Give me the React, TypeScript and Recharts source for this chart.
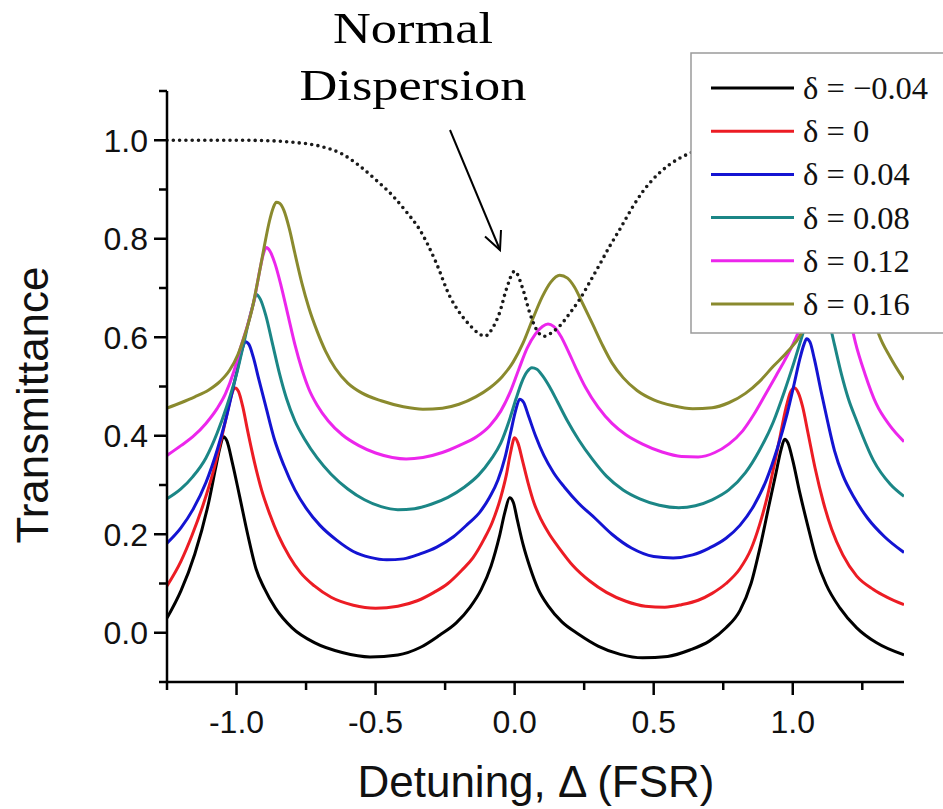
import React from 'react';
import { LineChart, Line, XAxis, YAxis } from 'recharts';

const CHART_W = 943;
const CHART_H = 809;

// [detuning (FSR), transmittance]
const curveM004: [number, number][] = [
  [-1.25, 0.03], [-1.2, 0.085], [-1.15, 0.16], [-1.1, 0.265], [-1.075, 0.335], [-1.06, 0.375], [-1.047, 0.398],
  [-1.035, 0.39], [-1.015, 0.345], [-0.99, 0.28], [-0.96, 0.2], [-0.93, 0.13], [-0.9, 0.09], [-0.86, 0.05],
  [-0.8, 0.01], [-0.72, -0.02], [-0.62, -0.04], [-0.52, -0.049], [-0.42, -0.045], [-0.34, -0.03], [-0.27, -0.005],
  [-0.21, 0.02], [-0.16, 0.052], [-0.12, 0.088], [-0.085, 0.135], [-0.055, 0.195], [-0.035, 0.245], [-0.018, 0.274],
  [-0.005, 0.265], [0.01, 0.228], [0.03, 0.18], [0.055, 0.133], [0.085, 0.088], [0.12, 0.055], [0.17, 0.022],
  [0.23, -0.003], [0.3, -0.027], [0.38, -0.044], [0.46, -0.051], [0.55, -0.048], [0.63, -0.035], [0.7, -0.017],
  [0.76, 0.01], [0.81, 0.045], [0.85, 0.1], [0.885, 0.18], [0.915, 0.26], [0.94, 0.325], [0.958, 0.372],
  [0.971, 0.393], [0.983, 0.385], [1.0, 0.35], [1.025, 0.285], [1.055, 0.215], [1.085, 0.15], [1.12, 0.098],
  [1.17, 0.05], [1.23, 0.01], [1.3, -0.02], [1.4, -0.045],
];

const curve000: [number, number][] = [
  [-1.25, 0.095], [-1.2, 0.145], [-1.16, 0.198], [-1.12, 0.26], [-1.08, 0.335], [-1.05, 0.405], [-1.03, 0.455],
  [-1.017, 0.485], [-1.005, 0.497], [-0.993, 0.49], [-0.978, 0.46], [-0.96, 0.41], [-0.935, 0.345], [-0.91, 0.29],
  [-0.88, 0.24], [-0.85, 0.198], [-0.81, 0.155], [-0.77, 0.122], [-0.72, 0.095], [-0.66, 0.072], [-0.58, 0.056],
  [-0.5, 0.05], [-0.42, 0.054], [-0.35, 0.065], [-0.29, 0.082], [-0.24, 0.1], [-0.19, 0.127], [-0.15, 0.152],
  [-0.11, 0.19], [-0.08, 0.225], [-0.05, 0.275], [-0.03, 0.32], [-0.015, 0.365], [0, 0.396], [0.012, 0.385],
  [0.028, 0.35], [0.048, 0.305], [0.07, 0.263], [0.095, 0.23], [0.125, 0.2], [0.16, 0.172], [0.21, 0.136],
  [0.27, 0.105], [0.33, 0.082], [0.4, 0.064], [0.47, 0.054], [0.54, 0.052], [0.6, 0.057], [0.66, 0.066],
  [0.71, 0.08], [0.76, 0.1], [0.81, 0.13], [0.85, 0.17], [0.88, 0.218], [0.91, 0.28], [0.935, 0.345],
  [0.955, 0.4], [0.975, 0.455], [0.993, 0.49], [1.007, 0.497], [1.02, 0.487], [1.035, 0.46], [1.055, 0.405],
  [1.08, 0.335], [1.11, 0.265], [1.14, 0.21], [1.18, 0.158], [1.23, 0.115], [1.29, 0.088], [1.34, 0.072],
  [1.4, 0.057],
];

const curve004: [number, number][] = [
  [-1.25, 0.182], [-1.2, 0.213], [-1.157, 0.25], [-1.11, 0.305], [-1.07, 0.37], [-1.04, 0.43], [-1.015, 0.49],
  [-0.995, 0.54], [-0.98, 0.575], [-0.968, 0.591], [-0.955, 0.585], [-0.94, 0.56], [-0.92, 0.515], [-0.895, 0.46],
  [-0.865, 0.395], [-0.83, 0.34], [-0.79, 0.29], [-0.75, 0.253], [-0.7, 0.218], [-0.64, 0.188], [-0.58, 0.165],
  [-0.52, 0.153], [-0.46, 0.148], [-0.4, 0.15], [-0.34, 0.16], [-0.28, 0.174], [-0.22, 0.195], [-0.17, 0.22],
  [-0.125, 0.245], [-0.09, 0.275], [-0.06, 0.31], [-0.035, 0.355], [-0.015, 0.405], [0.003, 0.45], [0.018, 0.474],
  [0.032, 0.468], [0.05, 0.44], [0.075, 0.4], [0.105, 0.36], [0.14, 0.325], [0.18, 0.295], [0.23, 0.263],
  [0.29, 0.232], [0.35, 0.2], [0.42, 0.172], [0.5, 0.155], [0.57, 0.152], [0.64, 0.158], [0.7, 0.172],
  [0.76, 0.192], [0.81, 0.218], [0.86, 0.258], [0.905, 0.31], [0.945, 0.375], [0.98, 0.445], [1.005, 0.505],
  [1.025, 0.555], [1.04, 0.585], [1.05, 0.597], [1.062, 0.59], [1.078, 0.555], [1.1, 0.495], [1.125, 0.43],
  [1.15, 0.37], [1.18, 0.32], [1.22, 0.275], [1.27, 0.232], [1.33, 0.195], [1.4, 0.163],
];

const curve008: [number, number][] = [
  [-1.25, 0.272], [-1.2, 0.292], [-1.157, 0.317], [-1.11, 0.355], [-1.07, 0.405], [-1.035, 0.46], [-1.0, 0.525],
  [-0.975, 0.585], [-0.955, 0.635], [-0.94, 0.667], [-0.929, 0.687], [-0.915, 0.678], [-0.895, 0.645],
  [-0.87, 0.585], [-0.845, 0.525], [-0.82, 0.475], [-0.79, 0.43], [-0.755, 0.393], [-0.71, 0.355], [-0.66, 0.322],
  [-0.6, 0.292], [-0.54, 0.27], [-0.48, 0.256], [-0.42, 0.25], [-0.36, 0.252], [-0.3, 0.261], [-0.24, 0.275],
  [-0.18, 0.296], [-0.13, 0.32], [-0.085, 0.352], [-0.05, 0.385], [-0.02, 0.43], [0.005, 0.475], [0.025, 0.508],
  [0.045, 0.53], [0.062, 0.538], [0.08, 0.535], [0.1, 0.522], [0.125, 0.5], [0.155, 0.468], [0.19, 0.43],
  [0.23, 0.392], [0.28, 0.352], [0.33, 0.318], [0.39, 0.29], [0.45, 0.272], [0.52, 0.259], [0.59, 0.254],
  [0.65, 0.258], [0.71, 0.27], [0.77, 0.29], [0.83, 0.325], [0.88, 0.37], [0.93, 0.428], [0.97, 0.49],
  [1.005, 0.55], [1.035, 0.605], [1.06, 0.65], [1.078, 0.675], [1.092, 0.687], [1.107, 0.678], [1.125, 0.645],
  [1.15, 0.585], [1.175, 0.525], [1.2, 0.475], [1.23, 0.43], [1.29, 0.35], [1.35, 0.302], [1.4, 0.277],
];

const curve012: [number, number][] = [
  [-1.25, 0.36], [-1.2, 0.38], [-1.157, 0.398], [-1.11, 0.425], [-1.07, 0.455], [-1.04, 0.485], [-1.01, 0.53],
  [-0.985, 0.58], [-0.96, 0.625], [-0.935, 0.68], [-0.915, 0.74], [-0.903, 0.77], [-0.893, 0.782], [-0.88, 0.775],
  [-0.862, 0.75], [-0.84, 0.705], [-0.815, 0.645], [-0.79, 0.585], [-0.765, 0.535], [-0.74, 0.495], [-0.71, 0.462],
  [-0.67, 0.43], [-0.62, 0.402], [-0.56, 0.38], [-0.5, 0.365], [-0.44, 0.356], [-0.39, 0.353], [-0.33, 0.356],
  [-0.26, 0.366], [-0.2, 0.38], [-0.137, 0.398], [-0.09, 0.42], [-0.05, 0.45], [-0.015, 0.49], [0.015, 0.535],
  [0.045, 0.578], [0.075, 0.607], [0.1, 0.622], [0.12, 0.627], [0.14, 0.622], [0.165, 0.603], [0.19, 0.575],
  [0.22, 0.538], [0.255, 0.498], [0.3, 0.458], [0.35, 0.425], [0.4, 0.402], [0.46, 0.383], [0.53, 0.367],
  [0.6, 0.358], [0.66, 0.357], [0.72, 0.366], [0.77, 0.383], [0.82, 0.41], [0.86, 0.443], [0.9, 0.482],
  [0.94, 0.522], [0.97, 0.552], [1.0, 0.585], [1.03, 0.625], [1.06, 0.68], [1.085, 0.735], [1.105, 0.768],
  [1.127, 0.782], [1.15, 0.77], [1.175, 0.725], [1.2, 0.655], [1.225, 0.59], [1.26, 0.525], [1.3, 0.465],
  [1.35, 0.42], [1.4, 0.388],
];

const curve016: [number, number][] = [
  [-1.25, 0.456], [-1.2, 0.467], [-1.15, 0.479], [-1.1, 0.493], [-1.06, 0.51], [-1.025, 0.533], [-0.995, 0.565],
  [-0.97, 0.605], [-0.945, 0.655], [-0.92, 0.725], [-0.9, 0.785], [-0.882, 0.835], [-0.868, 0.863], [-0.857, 0.874],
  [-0.845, 0.872], [-0.83, 0.858], [-0.81, 0.82], [-0.79, 0.77], [-0.765, 0.71], [-0.74, 0.66], [-0.71, 0.612],
  [-0.68, 0.572], [-0.645, 0.537], [-0.6, 0.507], [-0.55, 0.487], [-0.48, 0.471], [-0.4, 0.459], [-0.33, 0.454],
  [-0.26, 0.456], [-0.2, 0.464], [-0.14, 0.479], [-0.09, 0.497], [-0.045, 0.52], [-0.005, 0.55], [0.03, 0.588],
  [0.065, 0.637], [0.1, 0.683], [0.13, 0.712], [0.162, 0.726], [0.19, 0.72], [0.215, 0.702], [0.245, 0.668],
  [0.28, 0.627], [0.315, 0.585], [0.35, 0.548], [0.39, 0.518], [0.44, 0.492], [0.5, 0.473], [0.57, 0.461],
  [0.64, 0.455], [0.71, 0.457], [0.77, 0.467], [0.83, 0.486], [0.88, 0.51], [0.93, 0.541], [0.98, 0.57],
  [1.03, 0.607], [1.07, 0.665], [1.1, 0.74], [1.125, 0.81], [1.145, 0.856], [1.163, 0.875], [1.178, 0.87],
  [1.195, 0.85], [1.215, 0.81], [1.24, 0.755], [1.265, 0.7], [1.29, 0.64], [1.31, 0.605], [1.35, 0.56],
  [1.4, 0.514],
];

const dispersionCurve: [number, number][] = [
  [-1.25, 1.0], [-1.0, 1.0], [-0.88, 0.999], [-0.8, 0.996], [-0.7, 0.988], [-0.62, 0.972], [-0.558, 0.948],
  [-0.5, 0.92], [-0.438, 0.887], [-0.39, 0.855], [-0.342, 0.819], [-0.282, 0.751], [-0.234, 0.684],
  [-0.198, 0.65], [-0.162, 0.625], [-0.13, 0.608], [-0.108, 0.602], [-0.078, 0.62], [-0.054, 0.65],
  [-0.03, 0.697], [0, 0.734], [0.03, 0.697], [0.054, 0.65], [0.078, 0.616], [0.105, 0.602], [0.135, 0.61],
  [0.162, 0.623], [0.2, 0.65], [0.234, 0.677], [0.27, 0.712], [0.306, 0.748], [0.342, 0.785], [0.378, 0.819],
  [0.426, 0.866], [0.46, 0.895], [0.498, 0.921], [0.558, 0.951], [0.623, 0.972], [0.7, 0.988], [0.8, 0.997],
  [0.9, 1.0], [1.4, 1.0],
];

const seriesLabels = ['δ = −0.04', 'δ = 0', 'δ = 0.04', 'δ = 0.08', 'δ = 0.12', 'δ = 0.16'];
const seriesColors = ['#000000', '#ec1c24', '#1414d2', '#1b8686', '#ec26ec', '#8a8a2e'];
const seriesCurves = [curveM004, curve000, curve004, curve008, curve012, curve016];

const xTicks = [-1.25, -1, -0.75, -0.5, -0.25, 0, 0.25, 0.5, 0.75, 1, 1.25];
const yTicks = [-0.1, 0, 0.1, 0.2, 0.3, 0.4, 0.5, 0.6, 0.7, 0.8, 0.9, 1.0, 1.1];

const xDomain: [number, number] = [-1.25, 1.4];
const yDomain: [number, number] = [-0.1, 1.1];

const toRows = (pts: [number, number][]) => pts.map(([x, y]) => ({ x, y }));

const SANS = '"Liberation Sans", Arial, Helvetica, sans-serif';
const SERIF = '"Liberation Serif", "Times New Roman", serif';

const isMajorX = (v: number) => Math.abs(v * 2 - Math.round(v * 2)) < 1e-6;
const isMajorY = (v: number) => Math.round(v * 10) % 2 === 0;

const XTick = (props: any) => {
  const { x, y, payload } = props;
  const v = payload.value as number;
  const major = isMajorX(v);
  return (
    <g>
      <line x1={x} x2={x} y1={y} y2={y + (major ? 13 : 8)} stroke="#000" strokeWidth={2.5} />
      {major && (
        <text x={x} y={y + 51} textAnchor="middle" fontFamily={SANS} fontSize={32} fill="#111">
          {v.toFixed(1)}
        </text>
      )}
    </g>
  );
};

const YTick = (props: any) => {
  const { x, y, payload } = props;
  const v = payload.value as number;
  const major = isMajorY(v);
  return (
    <g>
      <line x1={x - (major ? 13 : 8)} x2={x} y1={y} y2={y} stroke="#000" strokeWidth={2.5} />
      {major && (
        <text x={x - 19} y={y + 11.5} textAnchor="end" fontFamily={SANS} fontSize={32} fill="#111">
          {v.toFixed(1)}
        </text>
      )}
    </g>
  );
};

const axisStroke = { stroke: '#000', strokeWidth: 2.5 };

export default function App() {
  const legendTop = 88;
  const legendStep = 43.2;
  return (
    <div style={{ position: 'relative', width: CHART_W, height: CHART_H, background: '#fff', overflow: 'hidden' }}>
      <style>{'body{margin:0;background:#fff;}'}</style>
      <LineChart width={CHART_W} height={CHART_H} margin={{ top: 91, right: 39, bottom: 0, left: 0 }}>
        <XAxis
          xAxisId="main"
          type="number"
          dataKey="x"
          domain={xDomain}
          ticks={xTicks}
          interval={0}
          allowDataOverflow
          tickSize={0}
          tickMargin={0}
          tickLine={false}
          axisLine={axisStroke}
          tick={(p: any) => <XTick {...p} />}
          height={127}
        />
        <XAxis
          xAxisId="top"
          orientation="top"
          type="number"
          domain={xDomain}
          allowDataOverflow
          tick={false}
          tickLine={false}
          axisLine={axisStroke}
          height={0}
        />
        <YAxis
          yAxisId="main"
          type="number"
          domain={yDomain}
          ticks={yTicks}
          interval={0}
          allowDataOverflow
          tickSize={0}
          tickMargin={0}
          tickLine={false}
          axisLine={axisStroke}
          tick={(p: any) => <YTick {...p} />}
          width={167}
        />
        <YAxis
          yAxisId="right"
          orientation="right"
          type="number"
          domain={yDomain}
          allowDataOverflow
          tick={false}
          tickLine={false}
          axisLine={axisStroke}
          width={0}
        />
        {seriesCurves.map((c, i) => (
          <Line
            key={seriesLabels[i]}
            xAxisId="main"
            yAxisId="main"
            data={toRows(c)}
            dataKey="y"
            name={seriesLabels[i]}
            type="monotone"
            stroke={seriesColors[i]}
            strokeWidth={3}
            dot={false}
            activeDot={false}
            isAnimationActive={false}
          />
        ))}
        <Line
          xAxisId="main"
          yAxisId="main"
          data={toRows(dispersionCurve)}
          dataKey="y"
          name="dispersion"
          type="monotone"
          stroke="#1a1a1a"
          strokeWidth={3.6}
          strokeDasharray="0 6.3"
          strokeLinecap="round"
          dot={false}
          activeDot={false}
          isAnimationActive={false}
        />
      </LineChart>
      <svg
        width={CHART_W}
        height={CHART_H}
        style={{ position: 'absolute', left: 0, top: 0, pointerEvents: 'none' }}
      >
        {/* annotation */}
        <rect x={278} y={84} width={272} height={14} fill="#fff" />
        <text x={413} y={43} textAnchor="middle" fontFamily={SERIF} fontSize={44} textLength={160} lengthAdjust="spacingAndGlyphs" fill="#000">
          Normal
        </text>
        <text x={413} y={100} textAnchor="middle" fontFamily={SERIF} fontSize={44} textLength={227} lengthAdjust="spacingAndGlyphs" fill="#000">
          Dispersion
        </text>
        <line x1={450} y1={130} x2={500} y2={250} stroke="#000" strokeWidth={2} />
        <polyline points="485,236.5 500,250 501,230" fill="none" stroke="#000" strokeWidth={2} />
        {/* legend */}
        <rect x={691} y={53} width={270} height={280} fill="#fff" stroke="#9a9a9a" strokeWidth={1.5} />
        {seriesLabels.map((lab, i) => {
          const yy = legendTop + i * legendStep;
          return (
            <g key={lab}>
              <line x1={711} x2={794} y1={yy} y2={yy} stroke={seriesColors[i]} strokeWidth={3} />
              <text x={803} y={yy + 11} fontFamily={SERIF} fontSize={32.5} fill="#111">
                {lab}
              </text>
            </g>
          );
        })}
        {/* axis titles */}
        <text transform="translate(48,405) rotate(-90)" textAnchor="middle" fontFamily={SANS} fontSize={44} fill="#111">
          Transmittance
        </text>
        <text x={536} y={797} textAnchor="middle" fontFamily={SANS} fontSize={44} fill="#111">
          Detuning, Δ (FSR)
        </text>
      </svg>
    </div>
  );
}
